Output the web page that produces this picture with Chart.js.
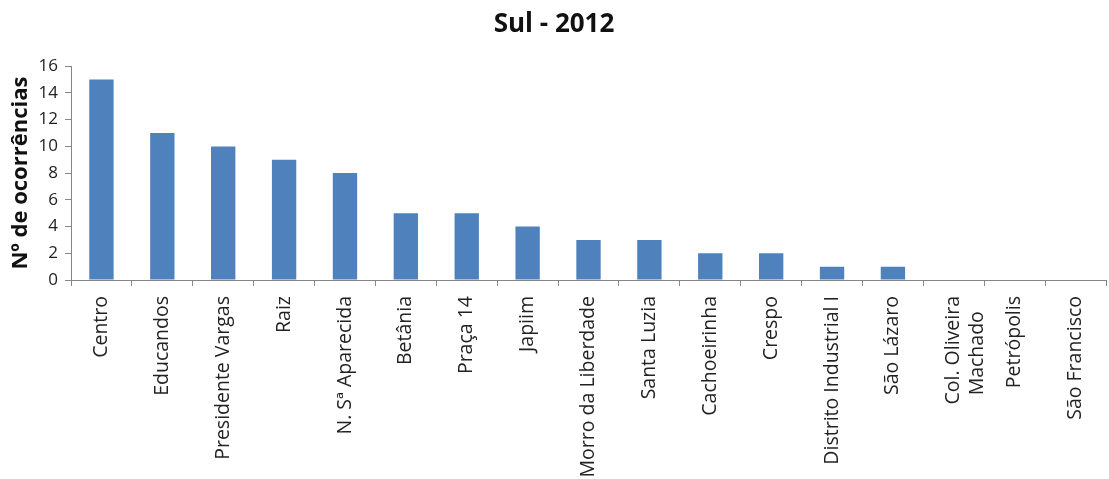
<!DOCTYPE html>
<html>
<head>
<meta charset="utf-8">
<title>Sul - 2012</title>
<script src="https://cdn.jsdelivr.net/npm/chart.js@4.4.1/dist/chart.umd.min.js"></script>
<style>
  html, body { margin: 0; padding: 0; background: #fff; }
  #wrap { width: 1109px; height: 479px; }
</style>
</head>
<body>
<div id="wrap"><canvas id="myChart" width="1109" height="479"></canvas></div>
<script>
// bairros da zona sul (espaços no fim de "Machado" para centralizar a 2ª linha)
var bairros = [
  'Centro', 'Educandos', 'Presidente Vargas', 'Raiz', 'N. Sª Aparecida',
  'Betânia', 'Praça 14', 'Japiim', 'Morro da Liberdade', 'Santa Luzia',
  'Cachoeirinha', 'Crespo', 'Distrito Industrial I', 'São Lázaro',
  ['Col. Oliveira', 'Machado   '], 'Petrópolis', 'São Francisco'
];
// número de ocorrências em 2012
var ocorrencias = [15, 11, 10, 9, 8, 5, 5, 4, 3, 3, 2, 2, 1, 1, 0, 0, 0];
var yTicks = { min: 0, max: 16, step: 2 };

var fonte = "'Open Sans', 'DejaVu Sans', sans-serif";
var corEixo = '#868686';

function drawChart(){
  var ctx = document.getElementById('myChart').getContext('2d');
  var chart = new Chart(ctx, {
    type: 'bar',
    data: {
      labels: bairros,
      datasets: [{
        data: ocorrencias,
        backgroundColor: '#4F81BD',
        borderWidth: 0,
        barPercentage: 0.4,
        categoryPercentage: 1.0
      }]
    },
    options: {
      responsive: false,
      animation: false,
      layout: { padding: { left: 0, right: 1, top: 0, bottom: 0 } },
      plugins: {
        legend: { display: false },
        tooltip: { enabled: false },
        title: {
          display: true,
          text: 'Sul - 2012',
          color: '#111',
          font: { family: fonte, size: 26, weight: 'bold' },
          padding: { top: 9, bottom: 26 }
        }
      },
      scales: {
        x: {
          grid: {
            display: true,
            drawOnChartArea: false,
            offset: true,
            color: corEixo,
            tickLength: 6
          },
          border: { color: corEixo, width: 1 },
          ticks: {
            autoSkip: false,
            minRotation: 90,
            maxRotation: 90,
            padding: 10,
            color: '#222',
            font: { family: fonte, size: 19.5 }
          },
          afterFit: function(scale){ scale.height = 199; }
        },
        y: {
          min: yTicks.min,
          max: yTicks.max,
          grid: {
            display: true,
            drawOnChartArea: false,
            color: corEixo,
            tickLength: 6
          },
          border: { color: corEixo, width: 1 },
          ticks: {
            stepSize: yTicks.step,
            padding: 7,
            color: '#222',
            font: { family: fonte, size: 17 }
          },
          title: {
            display: true,
            text: 'Nº de ocorrências',
            color: '#111',
            font: { family: fonte, size: 22, weight: 'bold' },
            padding: { top: 8, bottom: 0 }
          },
          afterFit: function(scale){ scale.width = 71; }
        }
      }
    }
  });
}

drawChart();
</script>
</body>
</html>
